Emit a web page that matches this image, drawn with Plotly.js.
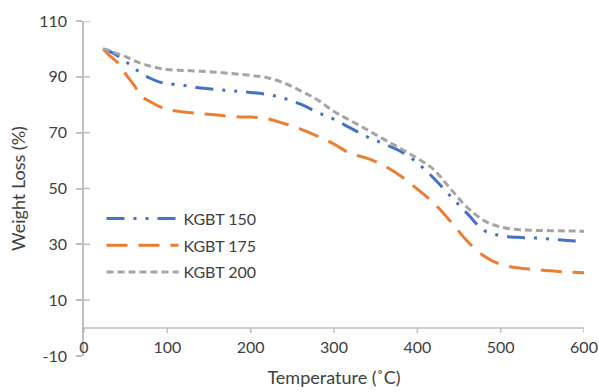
<!DOCTYPE html>
<html>
<head>
<meta charset="utf-8">
<script src="https://cdn.plot.ly/plotly-3.0.1.min.js"></script>
</head>
<body style="margin:0">
<div id="chart" style="width:599px;height:392px"></div>
<script>
const temperature = [23, 30, 40, 50, 60, 70, 80, 90, 100, 120, 140, 160, 180, 200, 220, 240, 260, 280, 300, 320, 340, 360, 380, 400, 420, 440, 460, 480, 500, 520, 540, 560, 580, 600];
const kgbt150 = [100, 99.2, 97.6, 95.5, 93.2, 91, 89.4, 88.2, 87.6, 86.9, 86, 85.4, 84.9, 84.4, 83.7, 82.3, 80.2, 77.3, 74.8, 71.6, 68.5, 66, 63.3, 59.2, 53.6, 47.2, 41, 35, 33.1, 32.5, 32.3, 31.9, 31.4, 31];
const kgbt175 = [100, 97.8, 95.2, 91, 87, 82.8, 81, 79.4, 78.3, 77.4, 76.8, 76.3, 75.7, 75.6, 75, 73.3, 71.3, 68.8, 65.9, 62.5, 60.8, 58.2, 54.5, 49.8, 44.7, 38.2, 31.1, 25.8, 22.8, 21.6, 21, 20.5, 20.1, 19.8];
const kgbt200 = [100, 99.5, 98.3, 97.2, 95.8, 94.7, 93.8, 93.1, 92.6, 92.3, 92, 91.6, 91.1, 90.5, 89.7, 87.8, 85, 81.8, 77.6, 74.3, 71, 67.6, 64.3, 60.8, 56.7, 49.8, 43.2, 38.5, 36.2, 35.3, 35, 34.9, 34.8, 34.7];
const seriesNames = ["KGBT 150", "KGBT 175", "KGBT 200"];
const xTicks = [0, 100, 200, 300, 400, 500, 600];
const yTicks = [-10, 10, 30, 50, 70, 90, 110];
const yMin = -10, yMax = 110;

const FONT = "Lato, 'Open Sans', sans-serif";
const AX = "#bfbfbf";
const TXT = "#404040";

// axis line at y = 0 with tick marks hanging below (drawn through the data scales)
const xTickDrop = 1.8;   // ~5 px in y units
const yTickIn = 7.2;     // ~6 px in x units
const innerYTicks = yTicks.slice(1);

const traces = [
  {x: xTicks, y: xTicks.map(() => 0), mode: "lines", showlegend: false, hoverinfo: "skip",
   line: {color: AX, width: 1.5},
   error_y: {type: "data", symmetric: false, array: xTicks.map(() => 0), arrayminus: xTicks.map(() => xTickDrop),
             color: AX, thickness: 1.5, width: 0}},
  {x: innerYTicks.map(() => 0), y: innerYTicks, mode: "markers", showlegend: false, hoverinfo: "skip",
   marker: {size: 1, color: "rgba(0,0,0,0)"},
   error_x: {type: "data", symmetric: false, array: innerYTicks.map(() => yTickIn), arrayminus: innerYTicks.map(() => 0),
             color: AX, thickness: 1.5, width: 0}},
  {x: temperature, y: kgbt150, name: seriesNames[0], legendgroup: "a", mode: "lines",
   line: {color: "#4472C4", width: 3, shape: "spline", dash: "18px,9px,3px,9px,3px,9px"}},
  {x: temperature, y: kgbt175, name: seriesNames[1], legendgroup: "b", mode: "lines",
   line: {color: "#ED7D31", width: 3, shape: "spline", dash: "21px,11px"}},
  {x: temperature, y: kgbt200, name: seriesNames[2], legendgroup: "c", mode: "lines",
   line: {color: "#A5A5A5", width: 3, shape: "spline", dash: "7px,4px"}}
];

const zeroFrac = (0 - yMin) / (yMax - yMin);

const layout = {
  width: 599, height: 392,
  margin: {l: 84, r: 15, t: 21, b: 36, pad: 0},
  paper_bgcolor: "#ffffff", plot_bgcolor: "rgba(0,0,0,0)",
  font: {family: FONT, size: 16, color: TXT},
  showlegend: true,
  legend: {x: 0.035, y: 0.461, xanchor: "left", yanchor: "top", bgcolor: "rgba(0,0,0,0)",
           font: {family: FONT, size: 16, color: TXT}, itemwidth: 72, traceorder: "grouped", tracegroupgap: 3},
  xaxis: {
    range: [0, 600], tickvals: xTicks, ticktext: xTicks.map(String),
    anchor: "free", position: zeroFrac,
    showline: false, ticks: "",
    showgrid: false, zeroline: false, ticklabelstandoff: 8,
    tickfont: {family: FONT, size: 16, color: TXT},
    title: {text: "Temperature (˚C)", font: {family: FONT, size: 18, color: TXT}, standoff: 16}
  },
  yaxis: {
    range: [yMin, yMax], tickvals: yTicks, ticktext: yTicks.map(String),
    showline: true, linecolor: AX, linewidth: 1.5,
    ticks: "outside", ticklen: 6, tickcolor: AX, tickwidth: 1.5,
    showgrid: false, zeroline: false, ticklabelstandoff: 6,
    tickfont: {family: FONT, size: 16, color: TXT},
    title: {text: "Weight Loss (%)", font: {family: FONT, size: 18, color: TXT}, standoff: 9}
  }
};

Plotly.newPlot("chart", traces, layout, {displayModeBar: false});
</script>
</body>
</html>
